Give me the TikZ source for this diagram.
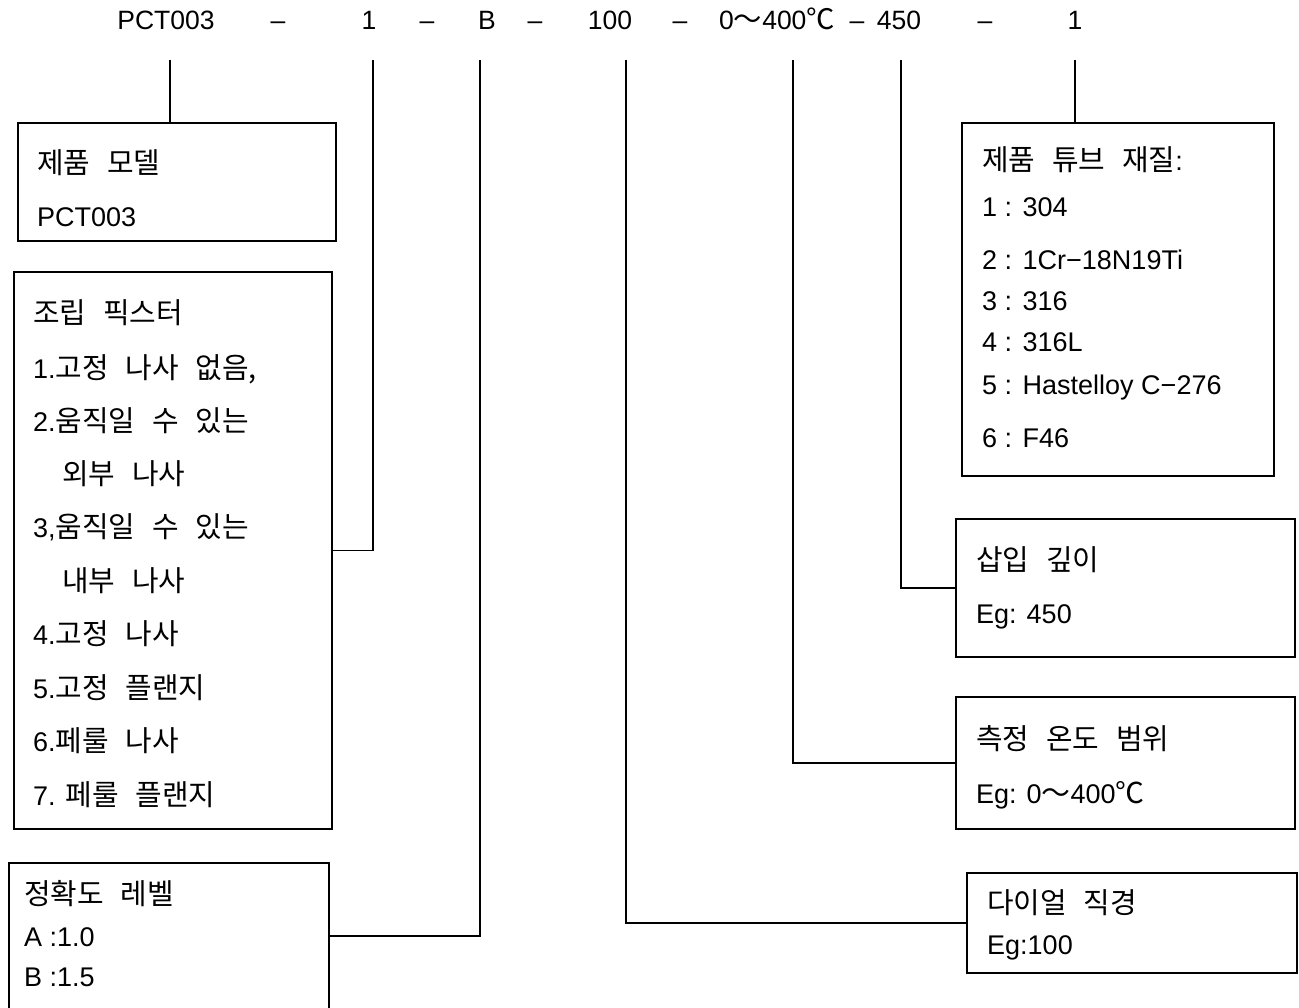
\documentclass[tikz,border=0pt]{standalone}
\usepackage{fontspec}
\setmainfont{Liberation Sans}
\newfontfamily\kr[WordSpace=2.6,Scale=1.07]{Noto Sans CJK KR}
\newcommand\cln{ :\kern3pt\ }
\begin{document}
\begin{tikzpicture}[x=1pt,y=-1pt,
  box/.style={draw, line width=1.7pt, anchor=north west, inner sep=0pt},
  txt/.style={anchor=base west, inner sep=0pt, font=\fontsize{27}{31}\selectfont},
  top/.style={anchor=base, inner sep=0pt, font=\fontsize{26.5}{30}\selectfont},
  ln/.style={line width=1.7pt}]
\useasboundingbox (0,0) rectangle (1299,1008);
% top row
\node[top] (t1) at (166,30) {PCT003};
\node[top] (d1) at (278,30) {–};
\node[top] (t2) at (369,30) {1};
\node[top] (d2) at (427,30) {–};
\node[top] (t3) at (487,30) {B};
\node[top] (d3) at (535,30) {–};
\node[top] (t4) at (610,30) {100};
\node[top] (d4) at (680,30) {–};
\node[top] (t5) at (777,30) {0{\kr ～}400{\kr ℃}};
\node[top] (d5) at (857,30) {–};
\node[top] (t6) at (899,30) {450};
\node[top] (d6) at (985,30) {–};
\node[top] (t7) at (1075,30) {1};
\coordinate (c1) at (170,60);
\coordinate (c2) at (373,60);
\coordinate (c3) at (480,60);
\coordinate (c4) at (626,60);
\coordinate (c5) at (793,60);
\coordinate (c6) at (901,60);
\coordinate (c7) at (1075,60);
% boxes
\node[box, minimum width=318, minimum height=118] (b1) at (17,122) {};
\node[box, minimum width=318, minimum height=557] (b2) at (13,271) {};
\node[box, minimum width=320, minimum height=146] (b3) at (8,862) {};
\node[box, minimum width=312, minimum height=353] (b4) at (961,122) {};
\node[box, minimum width=339, minimum height=138] (b5) at (955,518) {};
\node[box, minimum width=339, minimum height=132] (b6) at (955,696) {};
\node[box, minimum width=330, minimum height=100] (b7) at (966,872) {};
% box 1
\node[txt] (x11) at (37,174) {\kr 제품 모델};
\node[txt] (x12) at (37,227) {PCT003};
% box 2
\node[txt] (x21) at (33,324) {\kr 조립 픽스터};
\node[txt] (x22) at (33,378) {1.{\kr 고정 나사 없음,}};
\node[txt] (x23) at (33,431) {2.{\kr 움직일 수 있는}};
\node[txt] (x24) at (62,484) {\kr 외부 나사};
\node[txt] (x25) at (33,537) {3,{\kr 움직일 수 있는}};
\node[txt] (x26) at (62,591) {\kr 내부 나사};
\node[txt] (x27) at (33,644) {4.{\kr 고정 나사}};
\node[txt] (x28) at (33,698) {5.{\kr 고정 플랜지}};
\node[txt] (x29) at (33,751) {6.{\kr 페룰 나사}};
\node[txt] (x20) at (33,805) {7. {\kr 페룰 플랜지}};
% box 3
\node[txt] (x31) at (24,904) {\kr 정확도 레벨};
\node[txt] (x32) at (24,946) {A :1.0};
\node[txt] (x33) at (24,986) {B :1.5};
% box 4
\node[txt] (x41) at (982,171) {{\kr 제품 튜브 재질}:};
\node[txt] (x42) at (982,217) {1\cln 304};
\node[txt] (x43) at (982,270) {2\cln 1Cr−18N19Ti};
\node[txt] (x44) at (982,311) {3\cln 316};
\node[txt] (x45) at (982,352) {4\cln 316L};
\node[txt] (x46) at (982,395) {5\cln Hastelloy C−276};
\node[txt] (x47) at (982,447) {6\cln F46};
% box 5
\node[txt] (x51) at (976,570) {\kr 삽입 깊이};
\node[txt] (x52) at (976,623) {Eg: 450};
% box 6
\node[txt] (x61) at (976,749) {\kr 측정 온도 범위};
\node[txt] (x62) at (976,803) {Eg: 0{\kr ～}400{\kr ℃}};
% box 7
\node[txt] (x71) at (987,913) {\kr 다이얼 직경};
\node[txt] (x72) at (987,954) {Eg:100};
% connectors
\draw[ln] (c1) -- (c1 |- b1.north);
\draw[ln] (c7) -- (c7 |- b4.north);
\draw[ln] (c2) |- (b2.east);
\draw[ln] (c3) |- (b3.east);
\draw[ln] (c6) |- (b5.west);
\draw[ln] (c5) |- (b6.west);
\draw[ln] (c4) |- (b7.west);
\end{tikzpicture}
\end{document}
